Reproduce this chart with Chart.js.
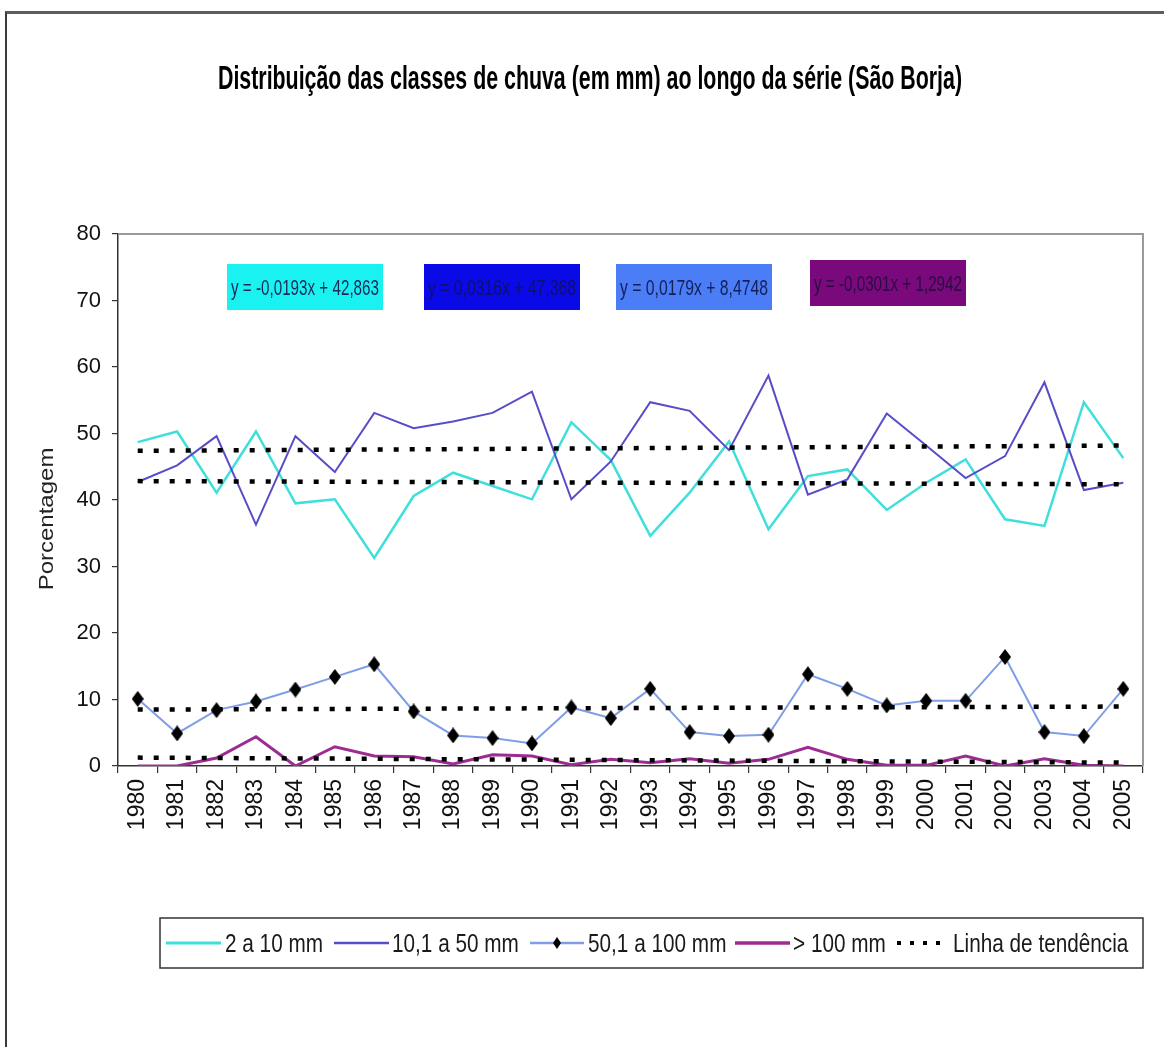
<!DOCTYPE html>
<html>
<head>
<meta charset="utf-8">
<script src="https://cdn.jsdelivr.net/npm/chart.js@4.4.1/dist/chart.umd.min.js"></script>
<style>
html,body{margin:0;padding:0;background:#fff;overflow:hidden;width:1164px;height:1047px;}
#frame{position:absolute;left:5px;top:11px;width:1250px;height:1150px;border-top:3px solid #5c5c5c;border-left:2px solid #3a3a3a;box-sizing:border-box;}
#wrap{position:absolute;left:0;top:0;width:1164px;height:1047px;}
</style>
</head>
<body>
<div id="frame"></div>
<div id="wrap"><canvas id="c" width="1164" height="1047"></canvas></div>
<script>
// ---- data ----
const years = ['1980','1981','1882','1983','1984','1985','1986','1987','1988','1989','1990','1991','1992','1993','1994','1995','1996','1997','1998','1999','2000','2001','2002','2003','2004','2005'];
const s2a10 = [48.7,50.3,41.1,50.3,39.5,40.1,31.3,40.6,44.1,42.1,40.1,51.7,46.0,34.6,41.1,48.8,35.6,43.6,44.6,38.5,42.6,46.1,37.1,36.1,54.7,46.3];
const s10a50 = [42.7,45.2,49.6,36.3,49.6,44.2,53.1,50.8,51.8,53.1,56.3,40.1,45.8,54.7,53.4,47.5,58.7,40.8,43.1,53.0,48.2,43.3,46.6,57.7,41.5,42.6];
const s50a100 = [10.1,4.9,8.4,9.7,11.5,13.4,15.3,8.2,4.6,4.2,3.4,8.8,7.2,11.6,5.1,4.5,4.7,13.8,11.6,9.1,9.8,9.8,16.4,5.1,4.5,11.6];
const s100 = [0,0,1.2,4.4,0,2.9,1.5,1.4,0.3,1.7,1.5,0.2,1.0,0.5,1.1,0.4,1.0,2.8,1.0,0.1,0.1,1.5,0,1.1,0.1,0];
// trend line end values (first year, last year)
const trendStart = [42.84, 47.40, 8.49, 1.26];
const trendEnd   = [42.36, 48.19, 8.94, 0.51];
const seriesLabels = ['2 a 10 mm','10,1 a 50 mm','50,1 a 100 mm','> 100 mm'];
const trendLabel = 'Linha de tendência';
const equations = ['y = -0,0193x + 42,863','y = 0,0316x + 47,368','y = 0,0179x + 8,4748','y = -0,0301x + 1,2942'];
const yTicks = [0,10,20,30,40,50,60,70,80];
const titleText = 'Distribuição das classes de chuva (em mm) ao longo da série (São Borja)';
const yTitle = 'Porcentagem';

// ---- styles ----
const colors = ['#3fe0dc','#574dc6','#7f9ee6','#9c2c92'];
const boxColors = ['#1af2f2','#0a0ae6','#4a7df6','#7a0a7c'];
const boxText = ['#1c2a5a','#10106a','#14205a','#2a0a45'];
const FONT = '"Liberation Sans", Arial, sans-serif';

function trendData(i){
  const d = years.map(()=>null);
  d[0] = trendStart[i];
  d[years.length-1] = trendEnd[i];
  return d;
}

// tall diamond marker
const diamond = document.createElement('canvas');
diamond.width = 12; diamond.height = 16;
(function(){
  const g = diamond.getContext('2d');
  g.fillStyle = '#000';
  g.beginPath(); g.moveTo(6,0); g.lineTo(12,8); g.lineTo(6,16); g.lineTo(0,8); g.closePath(); g.fill();
})();

const trendDatasets = [0,1,2,3].map(i => ({
  label: trendLabel, data: trendData(i), spanGaps: true,
  borderColor: '#000', borderWidth: 4.5, borderDash: [5,11], borderCapStyle: 'butt',
  pointRadius: 0, fill: false, order: 0, tension: 0
}));

const datasets = [
  ...trendDatasets,
  {label: seriesLabels[2], data: s50a100, borderColor: colors[2], borderWidth: 2, pointStyle: diamond, pointRadius: 6, pointBackgroundColor:'#000', order: 1},
  {label: seriesLabels[3], data: s100, borderColor: colors[3], borderWidth: 3, pointRadius: 0, order: 2},
  {label: seriesLabels[1], data: s10a50, borderColor: colors[1], borderWidth: 2, pointRadius: 0, order: 3},
  {label: seriesLabels[0], data: s2a10, borderColor: colors[0], borderWidth: 2.5, pointRadius: 0, order: 4}
];

function fitText(ctx, text, x, y, font, width, align, color){
  ctx.save();
  ctx.font = font;
  const w = ctx.measureText(text).width;
  ctx.fillStyle = color || '#111';
  ctx.textBaseline = 'alphabetic';
  ctx.translate(x, y); ctx.scale(width / w, 1);
  ctx.textAlign = align || 'left';
  ctx.fillText(text, 0, 0);
  ctx.restore();
}
function cText(ctx, text, x, y, font, sx, align, color){
  ctx.save();
  ctx.font = font; ctx.fillStyle = color || '#111';
  ctx.textBaseline = 'alphabetic';
  ctx.translate(x, y); ctx.scale(sx, 1);
  ctx.textAlign = align || 'left';
  ctx.fillText(text, 0, 0);
  ctx.restore();
}

const decor = {
  id: 'decor',
  afterDraw(chart){
    const ctx = chart.ctx; const ca = chart.chartArea;
    // plot area border (top, right)
    ctx.save();
    ctx.strokeStyle = '#9a9a9a'; ctx.lineWidth = 2;
    ctx.beginPath(); ctx.moveTo(ca.left, ca.top); ctx.lineTo(ca.right, ca.top); ctx.lineTo(ca.right, ca.bottom); ctx.stroke();
    ctx.restore();

    // title fitted to its width in the reference
    fitText(ctx, titleText, 590, 89, 'bold 33px ' + FONT, 744, 'center', '#000');

    // y title
    ctx.save();
    ctx.translate(53, 519); ctx.rotate(-Math.PI/2); ctx.scale(1, 0.82);
    ctx.font = '24px ' + FONT; ctx.fillStyle = '#222'; ctx.textAlign = 'center';
    ctx.fillText(yTitle, 0, 0);
    ctx.restore();

    // equation boxes
    const bx = [109, 306, 498, 692], by = [30, 30, 30, 26];
    for (let i=0;i<4;i++){
      const x = ca.left + bx[i], y = ca.top + by[i];
      ctx.fillStyle = boxColors[i];
      ctx.fillRect(x, y, 156, 46);
      fitText(ctx, equations[i], x + 78, y + 31, '22px ' + FONT, 148, 'center', boxText[i]);
    }

    // legend
    const L = 160, T = 918, R = 1143, B = 968, cy = 943;
    ctx.save();
    ctx.fillStyle = '#fff'; ctx.fillRect(L, T, R-L, B-T);
    ctx.strokeStyle = '#333'; ctx.lineWidth = 1.5; ctx.strokeRect(L, T, R-L, B-T);
    ctx.restore();
    const items = [
      {x0:166, x1:221, tx:225, c:colors[0], w:3, text:seriesLabels[0]},
      {x0:334, x1:389, tx:392, c:colors[1], w:2.5, text:seriesLabels[1]},
      {x0:530, x1:584, tx:588, c:colors[2], w:2.5, text:seriesLabels[2], marker:true},
      {x0:735, x1:790, tx:793, c:colors[3], w:3.5, text:seriesLabels[3]},
      {x0:897, x1:948, tx:953, c:'#000', w:4, text:trendLabel, dash:true}
    ];
    items.forEach(it => {
      ctx.save();
      ctx.strokeStyle = it.c; ctx.lineWidth = it.w;
      if (it.dash) ctx.setLineDash([4,9]);
      ctx.beginPath(); ctx.moveTo(it.x0, cy); ctx.lineTo(it.x1, cy); ctx.stroke();
      ctx.restore();
      if (it.marker){
        const mx = (it.x0+it.x1)/2;
        ctx.save(); ctx.fillStyle = '#000';
        ctx.beginPath(); ctx.moveTo(mx, cy-6); ctx.lineTo(mx+4, cy); ctx.lineTo(mx, cy+6); ctx.lineTo(mx-4, cy); ctx.closePath(); ctx.fill();
        ctx.restore();
      }
      cText(ctx, it.text, it.tx, cy + 9, '25px ' + FONT, 0.83, 'left', '#1a1a1a');
    });
  }
};

new Chart(document.getElementById('c'), {
  type: 'line',
  data: { labels: years, datasets },
  options: {
    responsive: false, animation: false, devicePixelRatio: 1,
    layout: { padding: { top: 234, right: 21, bottom: 201, left: 0 } },
    elements: { line: { tension: 0 } },
    plugins: { legend: { display: false }, title: { display: false }, tooltip: { enabled: false } },
    scales: {
      x: {
        type: 'category', offset: true,
        grid: { display: true, drawOnChartArea: false, offset: true, tickLength: 7, color: '#333', lineWidth: 1.2 },
        border: { color: '#333', width: 1.5 },
        ticks: { minRotation: 90, maxRotation: 90, autoSkip: false, padding: 6, color: '#111', font: { size: 23, family: FONT } },
        afterFit(s){ s.height = 80; }
      },
      y: {
        min: 0, max: 80,
        afterBuildTicks(s){ s.ticks = yTicks.map(v => ({value: v})); },
        grid: { display: true, drawOnChartArea: false, tickLength: 6, color: '#333', lineWidth: 1.2 },
        border: { color: '#333', width: 1.5 },
        ticks: { padding: 11, color: '#111', font: { size: 22, family: FONT } },
        afterFit(s){ s.width = 118; }
      }
    }
  },
  plugins: [decor]
});
</script>
</body>
</html>
